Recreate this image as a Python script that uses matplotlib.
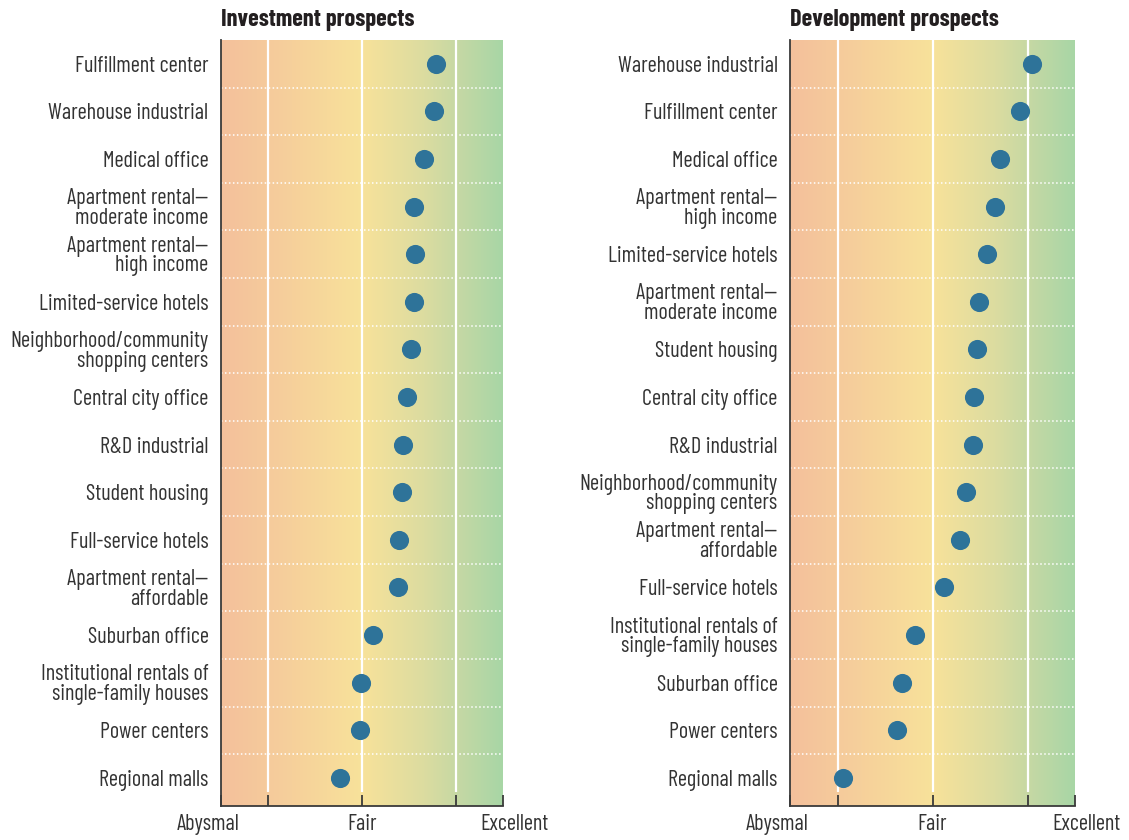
import numpy as np
import matplotlib
matplotlib.use("Agg")
import matplotlib.pyplot as plt
import matplotlib.transforms as mtrans
from matplotlib.colors import LinearSegmentedColormap
from matplotlib import font_manager

# scale: 1 = Abysmal, 5 = Fair, 9 = Excellent
invest_labels = [
    "Fulfillment center", "Warehouse industrial", "Medical office",
    "Apartment rental—\nmoderate income", "Apartment rental—\nhigh income",
    "Limited-service hotels", "Neighborhood/community\nshopping centers",
    "Central city office", "R&D industrial", "Student housing",
    "Full-service hotels", "Apartment rental—\naffordable", "Suburban office",
    "Institutional rentals of\nsingle-family houses", "Power centers",
    "Regional malls",
]
invest_values = [7.10, 7.04, 6.76, 6.48, 6.50, 6.48, 6.39, 6.28, 6.16, 6.13,
                 6.05, 6.02, 5.31, 4.97, 4.94, 4.38]

dev_labels = [
    "Warehouse industrial", "Fulfillment center", "Medical office",
    "Apartment rental—\nhigh income", "Limited-service hotels",
    "Apartment rental—\nmoderate income", "Student housing",
    "Central city office", "R&D industrial",
    "Neighborhood/community\nshopping centers", "Apartment rental—\naffordable",
    "Full-service hotels", "Institutional rentals of\nsingle-family houses",
    "Suburban office", "Power centers", "Regional malls",
]
dev_values = [7.79, 7.46, 6.89, 6.75, 6.53, 6.31, 6.25, 6.16, 6.14, 5.94,
              5.77, 5.32, 4.51, 4.14, 4.00, 2.49]

tick_pos = [1, 1 + 8 / 6, 5, 9 - 8 / 6, 9]
tick_text = ["Abysmal", "", "Fair", "", "Excellent"]

# pick a condensed face if there is one
names = {f.name for f in font_manager.fontManager.ttflist}
FONT = "DejaVu Sans"
for cand in ["Barlow Condensed", "PT Sans Narrow", "Roboto Condensed",
             "Archivo Narrow", "Liberation Sans Narrow"]:
    if cand in names:
        FONT = cand
        break
plt.rcParams["font.family"] = [FONT, "DejaVu Sans"]

grad = LinearSegmentedColormap.from_list(
    "prospects",
    [(0.0, "#f4c09c"), (0.25, "#f6d09b"), (0.5, "#f8e29a"),
     (0.72, "#dcdca0"), (0.85, "#c4d8a4"), (1.0, "#a8d6a6")])

DOT = "#2e7399"
AXC = "#3a3a3a"
TXT = "#333333"
LBL = 16

fig = plt.figure(figsize=(11.29, 8.4), dpi=100)


def panel(rect, title, labels, values):
    ax = fig.add_axes(rect)
    n = len(labels)
    ybot = n - 1 + 0.59
    ax.imshow(np.linspace(0, 1, 256).reshape(1, -1), cmap=grad, aspect="auto",
              extent=(1, 9, ybot, -0.5), zorder=0, interpolation="bilinear")
    ax.vlines(tick_pos[1:4], -0.5, n - 1 + 0.3, colors="white", lw=1.6, zorder=1)
    ax.hlines(np.arange(n - 1) + 0.5, 1, 9, colors="white", lw=1.1,
              linestyles=(0, (1, 1.6)), zorder=1)
    y = np.arange(n)
    ax.scatter(values, y, s=190, color=DOT, zorder=3, linewidths=0)
    ax.set_xlim(1, 9)
    ax.set_ylim(ybot, -0.5)
    ax.set_yticks(y)
    ax.set_yticklabels(labels, fontsize=LBL, color=TXT, linespacing=0.92)
    ax.tick_params(axis="y", length=0, pad=9)
    ax.set_xticks(tick_pos)
    ax.set_xticklabels(tick_text, fontsize=LBL, color=TXT)
    ax.tick_params(axis="x", direction="in", length=8, width=1.3, color=AXC, pad=6)
    # end labels sit a little outside their ticks
    shifts = [-13, 0, 0, 0, 12]
    for lbl, dx in zip(ax.get_xticklabels(), shifts):
        lbl.set_transform(lbl.get_transform() +
                          mtrans.ScaledTranslation(dx / 100, 0, fig.dpi_scale_trans))
    for s in ("top", "right"):
        ax.spines[s].set_visible(False)
    for s in ("left", "bottom"):
        ax.spines[s].set_color(AXC)
        ax.spines[s].set_linewidth(1.3)
    ax.set_title(title, loc="left", fontsize=17.5, fontweight="bold",
                 color="#231f20", pad=10)
    return ax


panel([221 / 1129, 34 / 840, 282 / 1129, 766 / 840], "Investment prospects",
      invest_labels, invest_values)
panel([790 / 1129, 34 / 840, 285 / 1129, 766 / 840], "Development prospects",
      dev_labels, dev_values)

fig.savefig("out.png", dpi=100)
